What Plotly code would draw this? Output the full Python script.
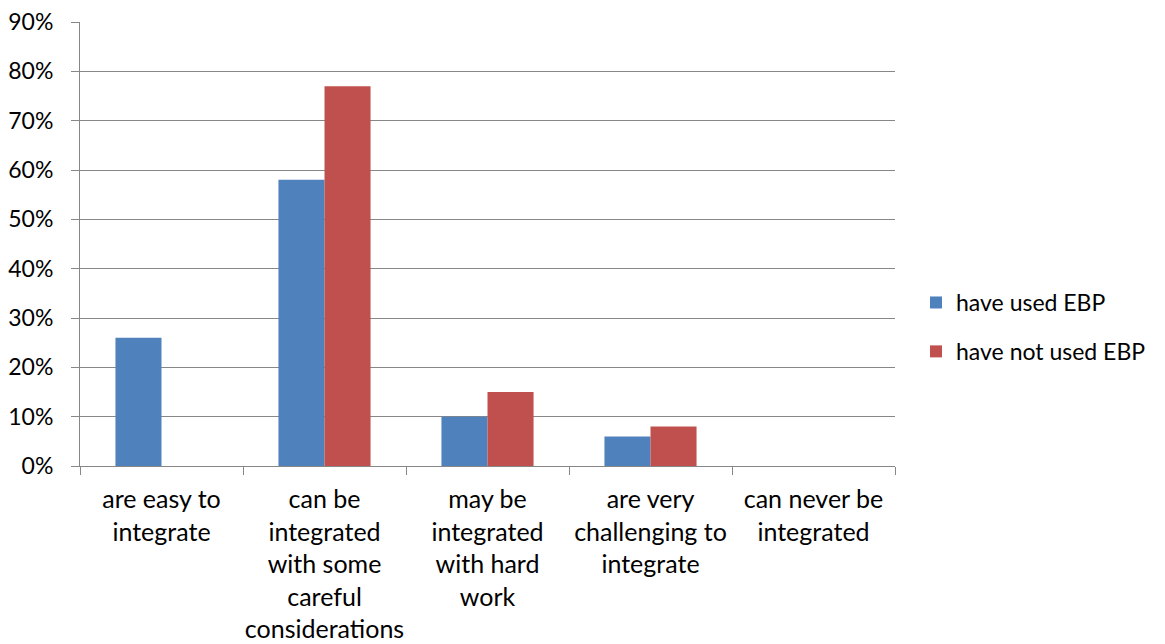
import plotly.graph_objects as go

categories = [
    "are easy to<br>integrate",
    "can be<br>integrated<br>with some<br>careful<br>considerations",
    "may be<br>integrated<br>with hard<br>work",
    "are very<br>challenging to<br>integrate",
    "can never be<br>integrated",
]
have_used = [0.26, 0.58, 0.10, 0.06, 0.0]
have_not_used = [0.0, 0.77, 0.15, 0.08, 0.0]
series_names = ["have used EBP", "have not used EBP"]
series_colors = ["#4F81BD", "#C0504D"]

FONT = "Lato"
AXIS_GRAY = "#878787"

fig = go.Figure()
for i, (name, vals, col) in enumerate(zip(series_names, [have_used, have_not_used], series_colors)):
    fig.add_trace(go.Bar(
        x=categories, y=vals, name=name,
        marker=dict(color=col, line=dict(width=0)),
        legendgroup=f"g{i}",
    ))

fig.update_layout(
    width=1165, height=644,
    margin=dict(l=80, r=270, t=22, b=178),
    paper_bgcolor="white", plot_bgcolor="white",
    barmode="group", bargap=0.435, bargroupgap=0,
    font=dict(family=FONT, size=23, color="#000000"),
    showlegend=True,
    legend=dict(
        x=1.0258, y=0.313, xanchor="left", yanchor="middle",
        font=dict(family=FONT, size=23, color="#000000"),
        tracegroupgap=16, itemwidth=30,
        bgcolor="rgba(0,0,0,0)",
    ),
)
fig.update_xaxes(
    showline=True, linecolor=AXIS_GRAY, linewidth=1,
    ticks="outside", ticklen=8, tickcolor=AXIS_GRAY, tickson="boundaries",
    showgrid=False, tickfont=dict(family=FONT, size=25), tickangle=0,
    ticklabelstandoff=11, automargin=False,
)
fig.update_yaxes(
    range=[0, 0.9], dtick=0.1, tickformat=".0%",
    showline=True, linecolor=AXIS_GRAY, linewidth=1,
    ticks="outside", ticklen=8, tickcolor=AXIS_GRAY,
    showgrid=True, gridcolor=AXIS_GRAY, gridwidth=1,
    zeroline=False, tickfont=dict(family=FONT, size=23),
    ticklabelstandoff=13, automargin=False,
)

fig.write_html("out.html")
